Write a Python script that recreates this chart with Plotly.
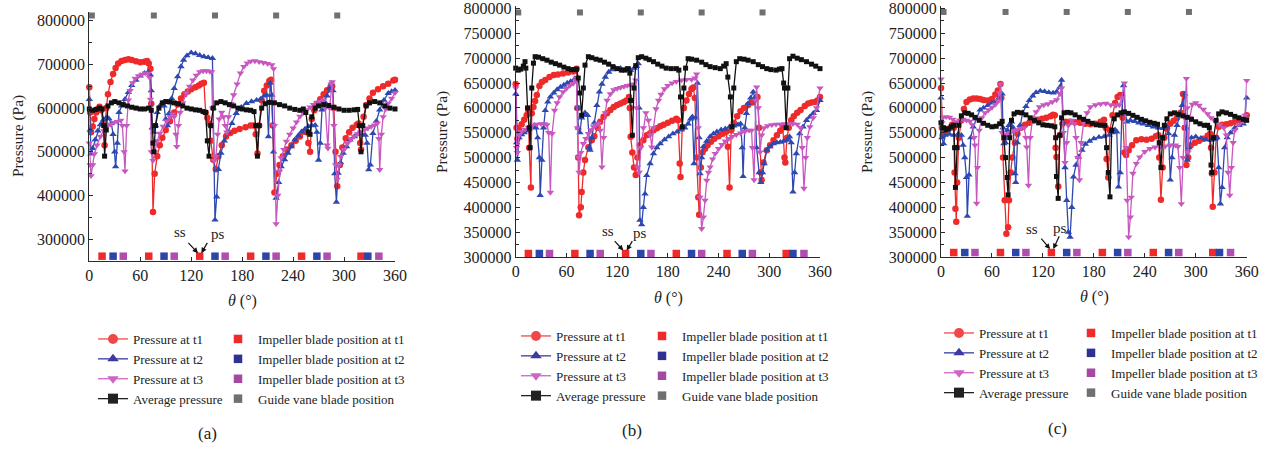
import plotly.graph_objects as go

# ---------------- data (theta in degrees, pressure in thousands of Pa) ----------------
A_T1 = [(0,648),(1,590),(2,545),(4,558),(6,575),(8,590),(10,598),(12,603),(14,595),(16,565),(18,515),(20,600),(22,632),(25,660),(28,678),(31,692),(34,702),(38,708),(42,710),(46,712),(50,710),(55,707),(60,705),(65,706),(68,708),(70,702),(72,690),(73,610),(75,362),(77,450),(80,490),(83,515),(86,532),(90,550),(95,570),(100,590),(104,608),(108,622),(112,632),(116,638),(120,643),(125,648),(129,652),(132,656),(135,658),(137,590),(139,578),(141,565),(143,525),(146,482),(149,460),(152,490),(156,515),(161,535),(166,543),(171,548),(177,552),(184,556),(190,560),(194,560),(196,540),(198,496),(200,560),(203,618),(206,640),(209,652),(212,662),(214,665),(216,560),(218,407),(221,450),(224,470),(228,490),(233,505),(238,515),(243,525),(248,535),(253,546),(256,545),(258,520),(260,500),(262,575),(265,595),(268,610),(272,620),(276,632),(280,641),(284,648),(286,650),(288,600),(290,500),(292,421),(295,470),(298,510),(302,531),(306,545),(310,555),(315,562),(317,565),(319,520),(320,505),(323,580),(326,607),(330,622),(334,635),(340,643),(346,650),(352,656),(358,663),(360,665)]
A_T2 = [(0,620),(1,550),(2,495),(4,508),(7,528),(10,548),(13,562),(17,574),(20,578),(23,576),(26,565),(28,540),(30,500),(31,466),(33,520),(35,590),(38,605),(42,620),(46,636),(50,652),(55,664),(60,674),(65,680),(69,682),(72,676),(73,640),(74,555),(76,545),(78,560),(80,590),(83,605),(86,611),(88,605),(90,575),(92,560),(94,588),(97,622),(100,645),(104,672),(108,695),(111,710),(115,720),(120,727),(125,725),(130,721),(135,718),(140,716),(145,714),(146,600),(148,344),(150,397),(152,460),(155,497),(159,525),(163,545),(168,565),(173,588),(179,602),(185,611),(191,615),(197,618),(202,621),(206,628),(209,630),(211,535),(213,657),(215,630),(217,500),(220,394),(223,430),(226,466),(230,482),(234,497),(238,512),(242,527),(246,537),(250,546),(254,552),(258,558),(262,560),(266,561),(268,545),(270,481),(272,520),(274,596),(277,615),(280,628),(283,645),(285,657),(287,640),(289,450),(291,385),(293,451),(296,475),(299,497),(303,512),(307,527),(312,535),(317,542),(321,541),(325,538),(327,520),(329,459),(331,470),(334,542),(338,570),(342,596),(347,618),(352,634),(356,638),(360,641)]
A_T3 = [(0,520),(1,470),(2,445),(4,470),(6,495),(9,515),(13,535),(17,548),(21,558),(25,563),(29,567),(33,569),(37,572),(39,560),(41,500),(42,456),(44,560),(46,618),(48,640),(51,658),(54,668),(58,674),(62,677),(66,680),(69,679),(71,670),(72,620),(73,500),(75,480),(77,500),(80,525),(83,542),(87,558),(91,570),(95,580),(98,586),(100,580),(102,540),(103,512),(105,560),(107,590),(110,612),(114,634),(118,650),(122,664),(126,675),(130,683),(134,685),(138,685),(142,684),(144,683),(145,600),(147,480),(149,489),(151,540),(153,575),(156,590),(158,580),(160,560),(162,545),(164,580),(167,610),(170,630),(174,655),(178,680),(182,695),(186,703),(190,707),(195,708),(200,706),(205,704),(210,702),(215,699),(217,690),(218,560),(220,335),(222,400),(224,455),(226,486),(229,505),(232,524),(236,540),(240,554),(244,568),(248,581),(252,590),(256,596),(260,602),(264,608),(268,612),(272,615),(276,618),(278,600),(280,515),(281,508),(283,600),(285,655),(286,660),(288,560),(290,470),(292,437),(294,470),(296,489),(300,505),(304,519),(308,528),(312,535),(316,541),(320,546),(324,550),(328,554),(332,558),(336,561),(339,565),(341,530),(342,459),(344,540),(346,580),(349,598),(352,611),(356,622),(360,635)]
A_AVG = [(0,598),(4,595),(8,597),(12,600),(15,598),(17,560),(18,490),(20,550),(22,605),(26,612),(30,615),(35,612),(40,608),(45,605),(50,602),(55,600),(60,598),(65,598),(70,600),(73,595),(75,520),(76,500),(78,560),(82,600),(86,612),(90,615),(95,614),(100,612),(105,610),(110,605),(115,600),(120,598),(125,596),(130,595),(134,592),(137,590),(139,525),(141,490),(143,560),(146,600),(150,612),(155,615),(160,612),(165,608),(170,605),(175,600),(180,598),(185,596),(190,595),(194,592),(196,560),(198,490),(200,560),(203,600),(207,610),(212,613),(218,612),(224,608),(230,605),(236,600),(242,597),(248,595),(252,598),(255,590),(258,545),(260,540),(262,580),(266,600),(270,605),(276,608),(282,606),(288,602),(294,598),(300,595),(306,595),(312,596),(316,597),(318,560),(320,500),(322,560),(326,605),(330,612),(336,615),(342,612),(348,605),(354,600),(360,598)]

B_T1 = [(0,648),(1,560),(2,538),(4,555),(7,567),(10,576),(13,585),(15,592),(16,520),(18,440),(19,589),(21,602),(23,614),(25,626),(28,644),(31,652),(35,656),(40,662),(45,666),(50,667),(56,669),(62,671),(68,673),(71,676),(72,679),(73,600),(74,500),(75,384),(77,400),(78,431),(80,470),(82,495),(86,521),(90,535),(93,543),(97,560),(100,572),(104,582),(108,589),(112,596),(116,602),(120,606),(124,609),(128,612),(131,615),(134,622),(135,600),(136,542),(138,510),(140,480),(142,465),(144,500),(147,525),(151,535),(155,545),(159,549),(163,555),(167,559),(171,563),(175,566),(180,570),(185,574),(190,578),(192,575),(194,488),(195,461),(197,560),(199,600),(202,615),(205,628),(208,638),(210,641),(212,620),(214,500),(216,420),(217,385),(219,480),(221,511),(224,518),(227,525),(231,532),(235,538),(240,543),(245,548),(249,552),(251,522),(253,440),(255,555),(258,570),(262,583),(266,593),(270,600),(275,606),(280,611),(284,618),(286,622),(288,560),(290,470),(291,455),(293,490),(297,515),(301,525),(305,535),(309,545),(313,554),(316,562),(318,500),(319,490),(321,540),(323,560),(326,575),(329,583),(333,590),(337,596),(342,604),(346,609),(350,611),(354,612),(357,615),(360,622)]
B_T2 = [(0,628),(1,530),(2,495),(4,540),(7,546),(10,550),(13,554),(16,558),(19,562),(22,565),(24,560),(26,540),(28,500),(29,424),(31,495),(33,560),(35,595),(38,612),(41,622),(45,630),(49,637),(53,642),(57,646),(61,650),(65,653),(70,659),(72,655),(73,600),(74,560),(76,550),(78,580),(80,586),(82,590),(85,585),(87,520),(88,515),(90,540),(93,570),(96,605),(99,632),(102,648),(106,662),(110,672),(114,677),(118,680),(124,680),(130,678),(136,676),(140,680),(143,684),(145,689),(146,600),(147,374),(149,365),(151,400),(153,427),(155,464),(159,488),(163,508),(167,520),(171,528),(176,536),(181,542),(186,548),(191,552),(196,556),(200,560),(204,568),(207,578),(209,582),(211,488),(213,580),(215,650),(217,540),(218,468),(220,500),(222,522),(226,533),(230,542),(234,548),(238,552),(243,556),(248,558),(253,562),(258,564),(263,566),(266,568),(268,520),(269,462),(271,560),(273,589),(275,609),(278,620),(281,632),(283,620),(285,520),(288,470),(290,450),(292,470),(294,488),(297,515),(301,522),(305,528),(309,530),(313,531),(317,533),(321,535),(324,542),(326,530),(328,431),(330,470),(332,508),(336,548),(340,562),(344,575),(348,582),(352,589),(356,595),(360,615)]
B_T3 = [(0,640),(1,520),(2,510),(4,545),(7,552),(11,557),(15,561),(20,565),(25,567),(30,568),(34,568),(37,566),(39,550),(41,430),(43,548),(46,595),(49,610),(52,622),(56,632),(60,639),(64,645),(68,649),(71,656),(72,660),(73,560),(74,501),(75,470),(77,510),(80,528),(83,538),(86,548),(89,556),(92,562),(95,566),(98,569),(100,555),(102,481),(104,540),(106,590),(108,615),(112,628),(116,636),(120,639),(124,641),(128,643),(132,645),(136,646),(140,648),(142,656),(143,600),(144,481),(146,470),(148,520),(151,560),(154,590),(157,575),(159,545),(161,521),(163,560),(166,598),(169,615),(172,627),(176,638),(180,645),(185,650),(190,653),(196,656),(202,657),(208,657),(212,660),(214,668),(216,560),(218,420),(220,357),(222,380),(224,414),(226,454),(228,470),(230,481),(233,497),(236,508),(240,518),(244,526),(248,533),(252,538),(256,542),(261,546),(266,549),(271,552),(276,555),(279,555),(280,520),(282,455),(284,615),(285,642),(287,600),(289,511),(291,545),(294,560),(298,564),(303,566),(308,567),(313,567),(318,568),(323,568),(328,568),(333,567),(337,560),(339,520),(341,438),(343,500),(345,540),(348,562),(352,580),(356,600),(360,640)]
B_AVG = [(0,680),(3,676),(6,678),(9,684),(11,693),(12,680),(14,600),(16,560),(17,520),(19,640),(21,690),(23,703),(27,702),(32,699),(37,696),(42,692),(47,689),(52,686),(57,682),(62,679),(66,677),(70,677),(72,678),(74,660),(76,630),(78,585),(80,640),(82,686),(86,703),(90,701),(95,698),(100,696),(105,692),(110,688),(115,683),(120,679),(125,676),(129,676),(133,679),(135,670),(136,615),(138,545),(140,640),(142,685),(145,701),(149,703),(154,700),(158,697),(163,693),(168,688),(173,684),(178,680),(184,679),(190,679),(193,676),(195,622),(197,562),(199,640),(201,680),(204,699),(208,698),(214,696),(220,692),(225,687),(230,683),(236,681),(242,679),(246,684),(249,689),(251,662),(254,622),(256,562),(258,640),(261,693),(265,699),(270,698),(275,696),(281,693),(287,687),(292,683),(297,679),(302,677),(308,676),(312,678),(315,679),(317,650),(318,640),(320,560),(322,640),(324,699),(328,704),(333,700),(338,697),(344,693),(350,688),(355,684),(360,679)]

C_T1 = [(0,640),(1,560),(2,545),(5,553),(9,558),(13,566),(15,560),(16,470),(17,397),(18,371),(19,450),(21,540),(24,575),(27,598),(30,612),(34,617),(38,619),(42,619),(46,618),(50,616),(55,615),(60,618),(64,627),(67,635),(70,648),(71,620),(73,500),(75,414),(77,347),(79,360),(80,414),(82,470),(84,500),(87,530),(90,548),(94,560),(99,566),(104,570),(109,574),(114,576),(119,578),(124,580),(129,583),(132,586),(134,585),(135,520),(136,501),(138,442),(140,545),(143,568),(147,572),(152,572),(158,571),(164,570),(170,568),(176,567),(182,568),(188,572),(192,576),(194,560),(195,497),(197,460),(199,555),(202,585),(205,610),(208,622),(211,626),(213,625),(214,580),(216,510),(218,505),(221,515),(225,525),(230,535),(236,537),(242,536),(248,538),(253,543),(256,545),(257,500),(259,415),(261,480),(263,540),(266,558),(270,568),(274,574),(278,580),(282,590),(285,628),(287,560),(289,485),(291,500),(294,525),(299,530),(304,534),(309,538),(314,544),(317,548),(318,520),(319,468),(320,401),(322,470),(324,540),(327,562),(331,566),(336,567),(341,569),(346,572),(351,573),(356,576),(360,585)]
C_T2 = [(0,620),(1,540),(3,528),(5,545),(10,547),(15,545),(20,547),(24,545),(26,525),(28,500),(30,460),(31,382),(33,465),(35,540),(38,562),(42,578),(46,596),(50,600),(55,605),(60,610),(65,613),(69,621),(72,628),(73,560),(74,528),(76,530),(78,555),(80,565),(83,572),(85,560),(87,468),(88,450),(90,530),(93,565),(96,590),(100,603),(104,615),(108,624),(112,631),(117,634),(122,633),(127,631),(132,630),(136,632),(140,642),(142,656),(144,570),(146,480),(148,414),(150,350),(152,340),(154,400),(156,461),(159,485),(162,501),(166,515),(170,527),(175,533),(180,538),(186,541),(192,542),(198,545),(202,550),(205,556),(207,552),(209,441),(211,470),(213,590),(215,645),(217,590),(219,572),(223,575),(228,573),(233,570),(238,568),(244,565),(250,562),(256,560),(262,559),(266,562),(268,548),(270,455),(272,500),(275,545),(278,565),(281,585),(284,605),(287,628),(289,560),(290,495),(292,520),(295,540),(300,542),(306,539),(312,536),(318,535),(322,537),(325,540),(327,480),(329,407),(331,440),(334,520),(337,540),(341,550),(346,560),(351,565),(356,568),(358,575),(360,620)]
C_T3 = [(0,658),(1,570),(2,580),(6,582),(10,581),(14,577),(18,572),(22,575),(26,577),(30,575),(34,573),(37,566),(39,540),(40,525),(42,408),(43,480),(45,555),(48,580),(52,590),(56,596),(60,601),(64,607),(67,614),(69,630),(70,648),(72,550),(74,545),(78,547),(82,550),(86,554),(90,556),(94,559),(98,560),(100,540),(101,521),(103,444),(105,540),(108,580),(112,592),(116,602),(121,606),(126,608),(131,612),(136,616),(140,628),(142,640),(144,550),(146,490),(148,530),(150,565),(154,575),(157,568),(159,540),(161,500),(163,455),(165,530),(168,570),(172,590),(176,602),(182,606),(188,608),(194,609),(200,606),(206,605),(210,606),(213,620),(216,650),(218,520),(219,414),(221,340),(223,380),(224,420),(226,468),(230,488),(234,501),(240,512),(246,518),(252,521),(258,522),(264,523),(270,525),(276,525),(279,522),(281,480),(283,407),(285,500),(287,580),(289,659),(290,600),(291,511),(293,580),(296,607),(300,610),(304,605),(309,597),(314,588),(318,580),(323,572),(328,566),(333,560),(336,545),(338,470),(340,424),(342,480),(344,530),(346,555),(351,567),(356,573),(358,585),(360,655)]
C_AVG = [(0,570),(3,560),(6,556),(9,558),(12,562),(15,565),(16,520),(17,440),(19,520),(21,565),(24,584),(28,590),(32,589),(36,586),(40,581),(45,575),(50,569),(55,565),(60,562),(65,563),(69,568),(72,573),(74,540),(76,500),(78,460),(79,425),(81,540),(83,575),(86,588),(90,591),(95,590),(100,586),(105,580),(110,575),(115,570),(120,566),(125,565),(130,564),(134,562),(135,540),(136,462),(138,418),(140,545),(142,580),(145,590),(149,591),(153,590),(158,586),(163,581),(168,577),(173,573),(178,569),(183,566),(188,565),(193,565),(195,520),(197,470),(199,421),(201,555),(204,578),(208,586),(212,590),(216,592),(221,589),(226,585),(231,581),(236,577),(241,574),(246,571),(251,569),(255,567),(257,530),(259,480),(261,540),(263,565),(266,578),(270,588),(275,590),(280,587),(285,584),(290,581),(295,577),(300,572),(305,568),(310,565),(314,565),(316,560),(318,485),(319,470),(321,540),(324,575),(327,588),(331,592),(336,590),(341,587),(346,583),(351,580),(356,577),(360,575)]

RED_BLADE_DEG = [15, 70, 130, 190, 250, 320]
BLUE_BLADE_DEG = [28, 88, 148, 208, 268, 328]
MAG_BLADE_DEG = [40, 100, 160, 220, 280, 341]
GUIDE_VANE_DEG = [3, 76, 148, 220, 292]

X_TICKS = [0, 60, 120, 180, 240, 300, 360]
A_Y_TICKS = [300000, 400000, 500000, 600000, 700000, 800000]
BC_Y_TICKS = [300000, 350000, 400000, 450000, 500000, 550000, 600000, 650000, 700000, 750000, 800000]

PRESSURE_NAMES = ["Pressure at t1", "Pressure at t2", "Pressure at t3", "Average pressure"]
POSITION_NAMES = ["Impeller blade position at t1", "Impeller blade position at t2",
                  "Impeller blade position at t3", "Guide vane blade position"]
PANEL_LABELS = ["(a)", "(b)", "(c)"]

# ---------------- styling ----------------
W, H = 1268, 451
FONT = "Liberation Serif"
LINE_COLORS = ["#ee2a2a", "#2d48b0", "#c957c0", "#111111"]
LEGEND_LINE_COLORS = ["#f04848", "#3a3aa0", "#cc66c4", "#222222"]
SYMBOLS = ["circle", "triangle-up", "triangle-down", "square"]
POS_COLORS = ["#ee2a2a", "#2c45a8", "#b04dae", "#6f7073"]
LEGEND_POS_COLORS = ["#ee2a2a", "#2e3192", "#a349a4", "#6f7073"]
AXIS_COLOR = "#2a2a2a"


def px(x):
    return x / W


def py(y):
    return 1 - y / H


panels = [
    dict(series=[A_T1, A_T2, A_T3, A_AVG], xd=(89.3, 395.0), yd=(261.0, 12.0), yr=(250000, 820000),
         yt=A_Y_TICKS, minor=50000, blade_y=261000, guide_y=812000,
         ytitle=(18, 136), xtitle=(242, 301), label=(207, 433),
         leg1=(93, 324), leg2=(218, 324),
         ss=(107, 316000), ps=(152, 311000), ss_arrow=((115, 295000), (128, 268000)),
         ps_arrow=((140, 295000), (132, 268000))),
    dict(series=[B_T1, B_T2, B_T3, B_AVG], xd=(515.7, 820.0), yd=(257.0, 6.0), yr=(300000, 805000),
         yt=BC_Y_TICKS, minor=25000, blade_y=307000, guide_y=792000,
         ytitle=(442, 132), xtitle=(668, 298), label=(632, 430),
         leg1=(516, 321), leg2=(642, 321),
         ss=(109.5, 352000), ps=(147, 349000), ss_arrow=((115.5, 335000), (127.3, 313000)),
         ps_arrow=((139, 335000), (131.3, 313000))),
    dict(series=[C_T1, C_T2, C_T3, C_AVG], xd=(941.0, 1246.7), yd=(257.0, 6.0), yr=(300000, 805000),
         yt=BC_Y_TICKS, minor=25000, blade_y=309000, guide_y=793000,
         ytitle=(867, 132), xtitle=(1094, 297), label=(1057, 428),
         leg1=(939, 318), leg2=(1071, 318),
         ss=(106.8, 356000), ps=(140, 359000), ss_arrow=((116.6, 340000), (128.4, 316000)),
         ps_arrow=((140, 345000), (132.3, 316000))),
]

fig = go.Figure()
annotations = []
layout_axes = {}
legends = {}


def paper_text(text, x, y, size, angle=0):
    return dict(text=text, x=px(x), y=py(y), xref="paper", yref="paper", textangle=angle,
                showarrow=False, xanchor="center", yanchor="middle",
                font=dict(family=FONT, size=size, color="#222"))


for i, p in enumerate(panels):
    n = "" if i == 0 else str(i + 1)
    xa, ya = "x" + n, "y" + n
    leg_a = "legend" + ("" if i == 0 else str(2 * i + 1))
    leg_b = "legend" + str(2 * i + 2)

    # data traces
    for k, s in enumerate(p["series"]):
        fig.add_trace(go.Scatter(
            x=[t for t, _ in s], y=[v * 1000 for _, v in s], mode="lines+markers",
            showlegend=False, xaxis=xa, yaxis=ya,
            line=dict(color=LINE_COLORS[k], width=1.3),
            marker=dict(symbol=SYMBOLS[k], size=6.5 if k < 3 else 5, color=LINE_COLORS[k]),
            cliponaxis=False, hoverinfo="skip"))

    blade_sets = [RED_BLADE_DEG, BLUE_BLADE_DEG, MAG_BLADE_DEG]
    for k, pos in enumerate(blade_sets):
        fig.add_trace(go.Scatter(
            x=pos, y=[p["blade_y"]] * len(pos), mode="markers", showlegend=False,
            xaxis=xa, yaxis=ya, cliponaxis=False, hoverinfo="skip",
            marker=dict(symbol="square", size=7.5, color=POS_COLORS[k])))
    fig.add_trace(go.Scatter(
        x=GUIDE_VANE_DEG, y=[p["guide_y"]] * len(GUIDE_VANE_DEG), mode="markers",
        showlegend=False, xaxis=xa, yaxis=ya, cliponaxis=False,
        hoverinfo="skip", marker=dict(symbol="square", size=6, color=POS_COLORS[3])))

    # legend entries (legend-only, empty traces)
    for k in range(4):
        fig.add_trace(go.Scatter(
            x=[None], y=[None], mode="lines+markers", name=PRESSURE_NAMES[k], legend=leg_a,
            xaxis=xa, yaxis=ya, line=dict(color=LEGEND_LINE_COLORS[k], width=1.3),
            marker=dict(symbol=SYMBOLS[k], size=10, color=LEGEND_LINE_COLORS[k])))
    for k in range(4):
        fig.add_trace(go.Scatter(
            x=[None], y=[None], mode="markers", name=POSITION_NAMES[k], legend=leg_b,
            xaxis=xa, yaxis=ya,
            marker=dict(symbol="square", size=8.5, color=LEGEND_POS_COLORS[k])))

    axis_common = dict(showline=True, linecolor=AXIS_COLOR, linewidth=1, showgrid=False,
                       zeroline=False, ticks="inside", ticklen=4, tickcolor=AXIS_COLOR,
                       automargin=False,
                       tickfont=dict(family=FONT, size=16, color="#222"))
    layout_axes["xaxis" + n] = dict(axis_common, domain=[px(p["xd"][0]), px(p["xd"][1])],
                                    range=[0, 360], tickmode="array", tickvals=X_TICKS,
                                    anchor=ya)
    layout_axes["yaxis" + n] = dict(axis_common, domain=[py(p["yd"][0]), py(p["yd"][1])],
                                    range=list(p["yr"]), tickmode="array", tickvals=p["yt"],
                                    tickformat="d", anchor=xa,
                                    minor=dict(dtick=p["minor"], tick0=0, ticks="inside",
                                               ticklen=3, tickcolor=AXIS_COLOR))

    legend_common = dict(xanchor="left", yanchor="top", bgcolor="rgba(0,0,0,0)",
                         font=dict(family=FONT, size=13, color="#222"),
                         tracegroupgap=0, itemwidth=30)
    legends[leg_a] = dict(legend_common, x=px(p["leg1"][0]), y=py(p["leg1"][1]))
    legends[leg_b] = dict(legend_common, x=px(p["leg2"][0]), y=py(p["leg2"][1]))

    annotations.append(paper_text("Pressure (Pa)", p["ytitle"][0], p["ytitle"][1], 15.5, -90))
    annotations.append(paper_text("<i>θ</i> (°)", p["xtitle"][0], p["xtitle"][1], 16))
    annotations.append(paper_text(PANEL_LABELS[i], p["label"][0], p["label"][1], 17))
    for txt, pos in (("ss", p["ss"]), ("ps", p["ps"])):
        annotations.append(dict(text=txt, x=pos[0], y=pos[1], xref=xa, yref=ya, showarrow=False,
                                xanchor="center", yanchor="middle",
                                font=dict(family=FONT, size=15, color="#222")))
    for tail, head in (p["ss_arrow"], p["ps_arrow"]):
        annotations.append(dict(text="", x=head[0], y=head[1], ax=tail[0], ay=tail[1],
                                xref=xa, yref=ya, axref=xa, ayref=ya, showarrow=True,
                                arrowhead=2, arrowsize=0.9, arrowwidth=1.2, arrowcolor="#111"))

fig.update_layout(
    template="none",
    width=W, height=H, autosize=False, margin=dict(l=0, r=0, t=0, b=0, pad=0, autoexpand=False),
    paper_bgcolor="white", plot_bgcolor="white", showlegend=True,
    annotations=annotations, **layout_axes, **legends)

fig.write_html("out.html", config={"displayModeBar": False},
               post_script="document.body.style.margin='0';")
